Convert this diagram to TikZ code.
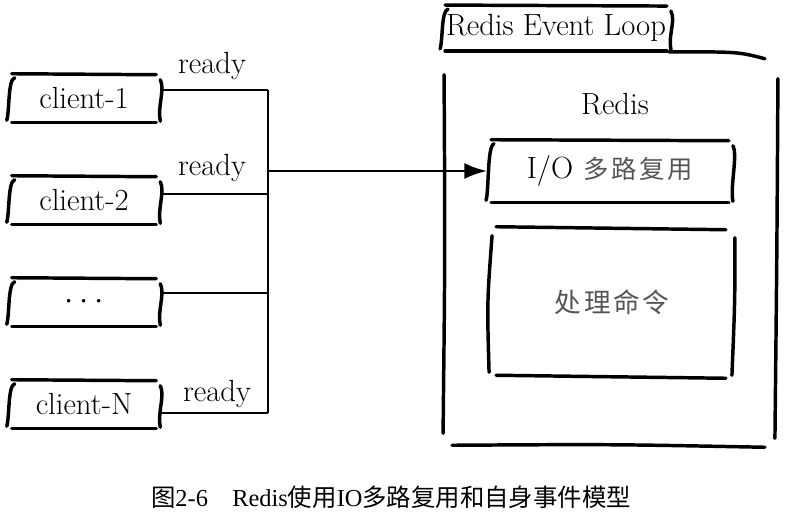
\documentclass[tikz,border=0pt]{standalone}
\usepackage{fontspec}
\newfontfamily\cjk{Noto Sans CJK SC}
\newfontfamily\capserif{Liberation Serif}
\usetikzlibrary{arrows.meta,calc}
\definecolor{inkgray}{RGB}{85,85,85}

% bracket-sided box drawn round a node
\newcommand\handbox[1]{%
  \draw[hand] ($(#1.north west)+(4,0)$) -- ($(#1.north east)+(-4,1)$);
  \draw[hand] ($(#1.south west)+(4,0)$) -- ($(#1.south east)+(-4,0)$);
  \draw[hand] ($(#1.north west)+(7,4)$) .. controls ($(#1.north west)+(0,6)$) and ($(#1.south west)+(2,-12)$) .. ($(#1.south west)+(-1,-2)$);
  \draw[hand] ($(#1.north east)+(0,6)$) .. controls ($(#1.north east)+(5,16)$) and ($(#1.south east)+(-3,-16)$) .. ($(#1.south east)+(0,-1)$);
}
% box with four loose strokes
\newcommand\plainbox[1]{%
  \draw[hand] ($(#1.north west)+(7,0)$) -- ($(#1.north east)+(-9,3)$);
  \draw[hand] ($(#1.south west)+(7,-2)$) -- ($(#1.south east)+(-9,1)$);
  \draw[hand] ($(#1.north west)+(3,9)$) .. controls ($(#1.west)+(-2,0)$) .. ($(#1.south west)+(0,-5)$);
  \draw[hand] ($(#1.north east)+(0,11)$) .. controls ($(#1.east)+(0,0)$) .. ($(#1.south east)+(-3,-2)$);
}

\begin{document}
\begin{tikzpicture}[x=0.75pt,y=-0.75pt]
    \tikzstyle{hand}=[line width=2.6pt,line cap=round]
    \tikzstyle{wire}=[line width=2.2pt]
    \tikzstyle{tag}=[inner sep=1pt,font=\fontsize{23}{26}\selectfont]
    \tikzstyle{clientbox}=[tag,inner sep=0pt,minimum width=114pt,minimum height=36pt]
    \tikzstyle{cjktext}=[text=inkgray,font=\fontsize{20}{24}\selectfont\cjk]
    \useasboundingbox (0,0) rectangle (786,516);
    % clients
    \draw (84,98) node[clientbox] (c1) {client-1};
    \draw (84,200) node[clientbox] (c2) {client-2};
    \draw (84,302) node[clientbox] (c3) {$\cdots$};
    \draw (84,404) node[clientbox] (cN) {client-N};
    \handbox{c1} \handbox{c2} \handbox{c3} \handbox{cN}
    \draw (212,66) node[tag] (r1) {ready};
    \draw (212,168) node[tag] (r2) {ready};
    \draw (217,394) node[tag] (rN) {ready};
    % bus
    \coordinate (j1) at (268,90);
    \coordinate (j2) at (268,194);
    \coordinate (j3) at (268,293);
    \coordinate (jN) at (268,413);
    \coordinate (jm) at (268,171);
    \draw[wire] (c1.east |- j1) -- (j1);
    \draw[wire] (c2.east |- j2) -- (j2);
    \draw[wire] (c3.east |- j3) -- (j3);
    \draw[wire] (cN.east |- jN) -- (jN);
    \draw[wire] (j1) -- (jN);
    % event loop
    \draw (556,28) node[tag,inner sep=0pt,minimum width=172pt,minimum height=34pt] (tab) {Redis Event Loop};
    \handbox{tab}
    \draw (611,251) node[minimum width=250pt,minimum height=294pt] (loop) {};
    \draw[hand] ($(tab.south east)+(-2,1)$) .. controls ($(loop.north east)+(-40,-3)$) .. ($(loop.north east)+(-13,4)$);
    \draw[hand] ($(loop.north west)+(0,20)$) .. controls ($(loop.west)+(1,0)$) .. ($(loop.south west)+(-1,-14)$);
    \draw[hand] ($(loop.north east)+(0,24)$) .. controls ($(loop.east)+(-1,0)$) .. ($(loop.south east)+(-3,-9)$);
    \draw[hand] ($(loop.south west)+(8,-2)$) .. controls ($(loop.south)+(0,-3)$) .. ($(loop.south east)+(-13,0)$);
    \draw (615,104) node[tag] (redis) {Redis};
    \draw (610,171) node[tag,minimum width=184pt,minimum height=46.5pt] (io) {I/O\hspace{8pt}{\cjk\color{inkgray}\fontsize{19}{24}\selectfont 多\hspace{2pt}路\hspace{2pt}复\hspace{2pt}用}};
    \handbox{io}
    \draw (612,302) node[cjktext,minimum width=184pt,minimum height=112.5pt] (cmd) {处\hspace{2pt}理\hspace{2pt}命\hspace{2pt}令};
    \plainbox{cmd}
    \draw[wire,-{Latex[length=17pt,width=12pt]}] (jm) -- (io.west |- jm);
    % caption
    \draw (391,497) node[font=\fontsize{18.3}{22}\selectfont] (cap) {{\cjk 图}{\capserif 2-6\quad Redis}{\cjk 使用}{\capserif IO}{\cjk 多路复用和自身事件模型}};
\end{tikzpicture}
\end{document}
